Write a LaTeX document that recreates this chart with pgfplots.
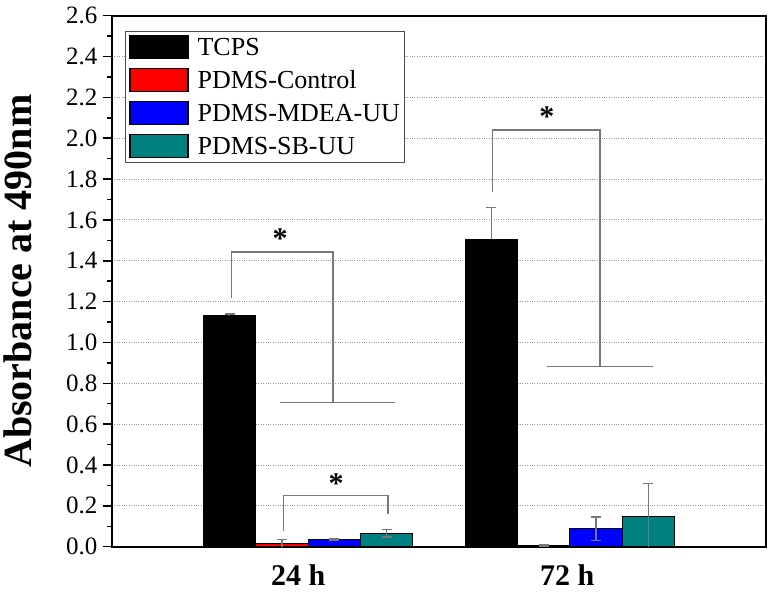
\documentclass[border=0pt]{standalone}
\usepackage{pgfplots}
\pgfplotsset{compat=1.18}
\usepackage{fontspec}
\setmainfont{Liberation Serif}
\definecolor{teal80}{RGB}{0,128,128}
\definecolor{brk}{RGB}{120,120,120}
\pgfplotsset{
  errstyle/.style={
    error bars/y dir=both, error bars/y explicit,
    error bars/error bar style={brk, line width=1.3pt},
    error bars/error mark options={rotate=90, mark size=5pt, brk, line width=1.3pt}},
  brkstyle/.style={sharp plot, draw=brk, line width=1.3pt, forget plot, mark=none},
}
\begin{document}
\begin{tikzpicture}
\begin{axis}[
  scale only axis,
  width=654pt, height=531pt,
  xmin=0.25, xmax=2.75,
  ymin=0, ymax=2.6,
  ybar=0pt, bar width=0.2,
  axis line style={line width=2pt},
  xtick={0.962,1.99},
  xticklabels={24 h,72 h},
  xtick style={draw=none},
  xticklabel style={font=\fontsize{30}{34}\selectfont\bfseries, yshift=-5pt},
  ytick={0,0.2,...,2.61},
  minor y tick num=1,
  ytick pos=left,
  tick align=outside,
  major tick length=9pt, minor tick length=5pt,
  tick style={line width=1.5pt, black},
  yticklabel style={font=\fontsize{25}{29}\selectfont, xshift=-2pt},
  /pgf/number format/assume math mode=true,
  yticklabel={\pgfmathprintnumber[fixed,fixed zerofill,precision=1]{\tick}},
  ymajorgrids,
  grid style={dotted, black!40, line width=0.9pt},
  ylabel={Absorbance at 490nm},
  ylabel style={font=\fontsize{40}{46}\selectfont\bfseries, at={(axis description cs:-0.144,0.5)}, anchor=center},
  legend style={at={(axis description cs:0,1)}, anchor=north west, xshift=13pt, yshift=-15pt,
    draw=black!70, line width=0.8pt, font=\fontsize{26}{30}\selectfont,
    inner xsep=4pt, inner ysep=4pt, row sep=8.8pt,
    nodes={inner sep=1pt},
    /tikz/every odd column/.append style={column sep=8pt}},
  legend cell align=left,
  legend image code/.code={\draw[#1, line width=1.2pt] (0pt,-11.5pt) rectangle (58pt,11.5pt);},
]
\addplot[fill=black, draw=black, line width=1.2pt, errstyle, error bars/y dir=plus] coordinates {(1,1.13) +- (0,0.01) (2,1.505) +- (0,0.155)};
\addplot[fill=red, draw=black, line width=1.2pt, errstyle] coordinates {(1,0.015) +- (0,0.02) (2,0.005) +- (0,0.003)};
\addplot[fill=blue, draw=black, line width=1.2pt, errstyle] coordinates {(1,0.037) +- (0,0.004) (2,0.088) +- (0,0.057)};
\addplot[fill=teal80, draw=black, line width=1.2pt, errstyle] coordinates {(1,0.066) +- (0,0.018) (2,0.148) +- (0,0.16)};
\legend{TCPS,PDMS-Control,PDMS-MDEA-UU,PDMS-SB-UU}
% significance brackets
\addplot[brkstyle] coordinates {(0.708,1.217) (0.708,1.443) (1.095,1.443) (1.095,0.707)};
\addplot[brkstyle] coordinates {(0.893,0.707) (1.333,0.707)};
\addplot[brkstyle] coordinates {(0.905,0.075) (0.905,0.249) (1.305,0.249) (1.305,0.161)};
\addplot[brkstyle] coordinates {(1.704,1.737) (1.704,2.041) (2.115,2.041) (2.115,0.881)};
\addplot[brkstyle] coordinates {(1.912,0.881) (2.317,0.881)};
\node[anchor=base, font=\fontsize{30}{34}\selectfont\bfseries, inner sep=0pt] at (axis cs:0.893,1.46) {*};
\node[anchor=base, font=\fontsize{30}{34}\selectfont\bfseries, inner sep=0pt] at (axis cs:1.107,0.261) {*};
\node[anchor=base, font=\fontsize{30}{34}\selectfont\bfseries, inner sep=0pt] at (axis cs:1.912,2.058) {*};
\end{axis}
\pgfresetboundingbox
\path ([shift={(-112pt,-49.3pt)}]current axis.south west) rectangle ([shift={(6pt,15.7pt)}]current axis.north east);
\end{tikzpicture}
\end{document}
